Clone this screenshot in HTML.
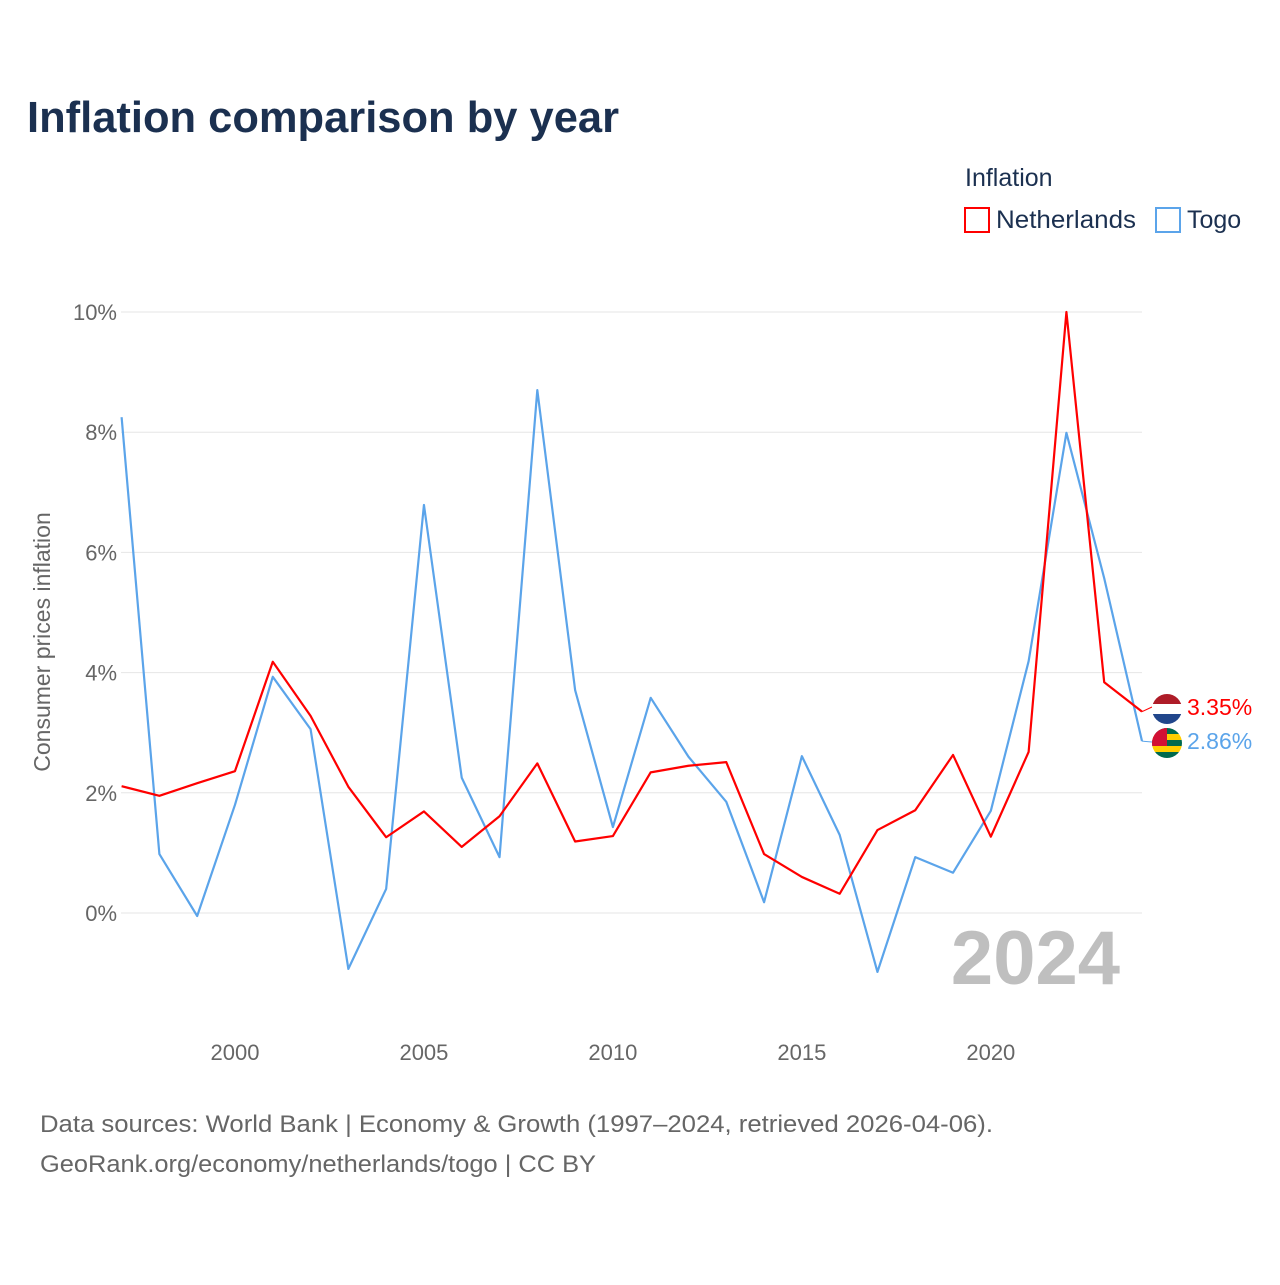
<!DOCTYPE html>
<html><head><meta charset="utf-8"><style>
body{margin:0;background:#fff;font-family:"Liberation Sans",sans-serif;}
#wrap{position:relative;width:1280px;height:1280px;}
</style></head><body>
<div id="wrap">
<svg id="chart" width="1280" height="1280" xmlns="http://www.w3.org/2000/svg">
<text x="27" y="132" font-size="44" font-weight="bold" fill="#1b3050" textLength="592" lengthAdjust="spacingAndGlyphs">Inflation comparison by year</text>
<text x="965" y="186" font-size="25" fill="#1b3050">Inflation</text>
<g><rect x="965" y="208" width="24" height="24" fill="none" stroke="#f00" stroke-width="2"/><text x="996" y="228" font-size="25" fill="#1b3050" textLength="140" lengthAdjust="spacingAndGlyphs">Netherlands</text></g>
<g><rect x="1156" y="208" width="24" height="24" fill="none" stroke="#5ba4ea" stroke-width="2"/><text x="1187" y="228" font-size="25" fill="#1b3050">Togo</text></g>
<text transform="translate(50,642) rotate(-90)" text-anchor="middle" font-size="23" fill="#666">Consumer prices inflation</text>
<g id="grid"></g><g id="yt"></g><g id="xt"></g>
<text x="1120" y="984" text-anchor="end" font-size="76" font-weight="bold" fill="#bfbfbf">2024</text>
<g id="lines"></g>
<text x="40" y="1132" font-size="24" fill="#666" textLength="953" lengthAdjust="spacingAndGlyphs">Data sources: World Bank | Economy &amp; Growth (1997–2024, retrieved 2026-04-06).</text>
<text x="40" y="1172" font-size="24" fill="#666" textLength="556" lengthAdjust="spacingAndGlyphs">GeoRank.org/economy/netherlands/togo | CC BY</text>
</svg></div>
<script>
const years=[1997,1998,1999,2000,2001,2002,2003,2004,2005,2006,2007,2008,2009,2010,2011,2012,2013,2014,2015,2016,2017,2018,2019,2020,2021,2022,2023,2024];
const netherlands=[2.11,1.95,2.16,2.36,4.18,3.28,2.10,1.26,1.69,1.10,1.61,2.49,1.19,1.28,2.34,2.45,2.51,0.98,0.60,0.32,1.38,1.71,2.63,1.27,2.68,10.0,3.84,3.35];
const togo=[8.25,0.98,-0.05,1.80,3.93,3.06,-0.93,0.40,6.79,2.25,0.93,8.70,3.71,1.43,3.58,2.60,1.85,0.18,2.61,1.30,-0.98,0.93,0.67,1.70,4.19,7.99,5.57,2.86];
const yTicks=[0,2,4,6,8,10];
const xTicks=[2000,2005,2010,2015,2020];
const NS="http://www.w3.org/2000/svg";
const x=v=>121.6+(v-1997)*(1142-121.6)/27;
const y=v=>913-v*60.1;
function mk(t,a,p){const e=document.createElementNS(NS,t);for(const k in a)e.setAttribute(k,a[k]);p.appendChild(e);return e;}
const grid=document.getElementById('grid'),yt=document.getElementById('yt'),xt=document.getElementById('xt'),lines=document.getElementById('lines');
yTicks.forEach(t=>{
 const l=mk('line',{x1:121,x2:1142,y1:y(t),y2:y(t),stroke:'#e6e6e6','stroke-width':1},grid);
 
 
 const tx=mk('text',{x:117,y:y(t)+8,'text-anchor':'end','font-size':22,fill:'#666'},yt);
 tx.textContent=t+'%';
 
 
});
xTicks.forEach(t=>{
 const tx=mk('text',{x:x(t),y:1060,'text-anchor':'middle','font-size':22,fill:'#666'},xt);
 tx.textContent=t;
 
 
});
function series(vals,color,name){
 const p=mk('polyline',{points:vals.map((v,i)=>x(years[i])+','+y(v)).join(' '),fill:'none',stroke:color,'stroke-width':2.2,'stroke-linejoin':'round'},lines);
 
 
}
series(togo,'#5ba4ea','togo-line');
series(netherlands,'#f00','netherlands-line');
const last=years.length-1;
const nlY=y(netherlands[last]),tgY=y(togo[last]);
mk('line',{x1:1142,x2:1152,y1:nlY,y2:707,stroke:'#f00'},lines);
mk('line',{x1:1142,x2:1152,y1:tgY,y2:742,stroke:'#5ba4ea'},lines);
const f1=mk('g',{},lines);


const cp1=mk('clipPath',{id:'c1'},f1);mk('circle',{cx:1167,cy:709,r:15},cp1);
const g1=mk('g',{'clip-path':'url(#c1)'},f1);
mk('rect',{x:1152,y:694,width:30,height:10,fill:'#ae1c28'},g1);mk('rect',{x:1152,y:704,width:30,height:10,fill:'#fff'},g1);mk('rect',{x:1152,y:714,width:30,height:10,fill:'#21468b'},g1);
const f2=mk('g',{},lines);


const cp2=mk('clipPath',{id:'c2'},f2);mk('circle',{cx:1167,cy:743,r:15},cp2);
const g2=mk('g',{'clip-path':'url(#c2)'},f2);
for(let i=0;i<5;i++)mk('rect',{x:1152,y:728+i*6,width:30,height:6,fill:i%2?'#ffce00':'#006a4e'},g2);
mk('rect',{x:1152,y:728,width:15,height:18,fill:'#d21034'},g2);
const t1=mk('text',{x:1187,y:715,'font-size':23,fill:'#f00'},lines);t1.textContent=netherlands[last].toFixed(2)+'%';


const t2=mk('text',{x:1187,y:749,'font-size':23,fill:'#5ba4ea'},lines);t2.textContent=togo[last].toFixed(2)+'%';


</script>
</body></html>
